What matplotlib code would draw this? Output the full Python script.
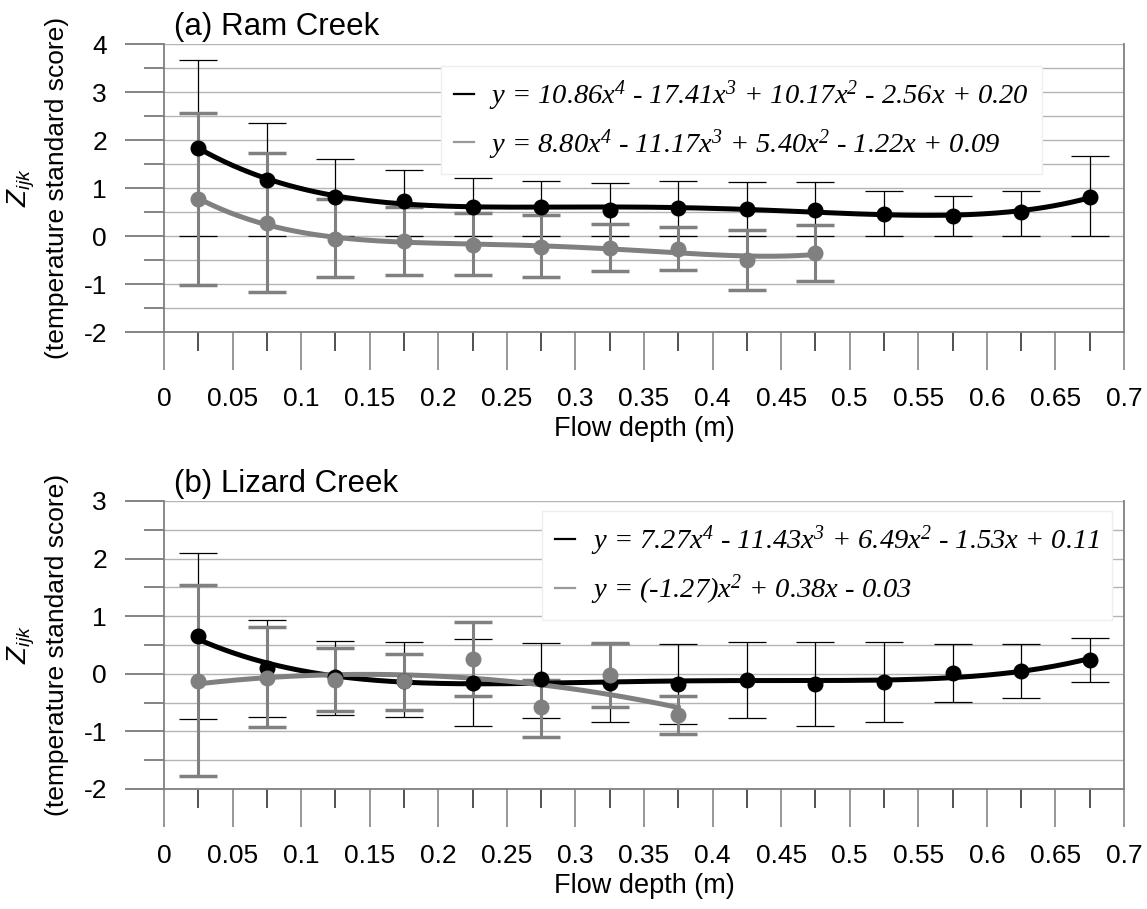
import numpy as np
import matplotlib
matplotlib.use("Agg")
import matplotlib.pyplot as plt
from matplotlib.lines import Line2D

plt.rcParams['font.family'] = ['Liberation Sans', 'DejaVu Sans']
plt.rcParams['axes.unicode_minus'] = False
plt.rcParams['mathtext.fontset'] = 'custom'
plt.rcParams['mathtext.rm'] = 'Liberation Serif:italic'
plt.rcParams['mathtext.it'] = 'Liberation Serif:italic'
plt.rcParams['mathtext.sf'] = 'Liberation Sans:italic'

# bin centres of flow depth (m)
depth = [0.025, 0.075, 0.125, 0.175, 0.225, 0.275, 0.325,
         0.375, 0.425, 0.475, 0.525, 0.575, 0.625, 0.675]
x_ticks = [0, 0.05, 0.1, 0.15, 0.2, 0.25, 0.3, 0.35, 0.4, 0.45, 0.5, 0.55, 0.6, 0.65, 0.7]
x_labels = ['0', '0.05', '0.1', '0.15', '0.2', '0.25', '0.3', '0.35',
            '0.4', '0.45', '0.5', '0.55', '0.6', '0.65', '0.7']

# (a) Ram Creek
ram_black_y = [1.84, 1.17, 0.82, 0.73, 0.61, 0.60, 0.54, 0.59, 0.56, 0.55, 0.45, 0.42, 0.49, 0.82]
ram_black_hi = [3.66, 2.36, 1.60, 1.37, 1.20, 1.14, 1.10, 1.14, 1.12, 1.12, 0.93, 0.84, 0.94, 1.67]
ram_black_lo = [0.0, 0.0, 0.0, 0.0, 0.0, 0.0, 0.0, 0.0, 0.0, 0.0, 0.0, 0.0, 0.0, 0.0]
ram_grey_y = [0.77, 0.28, -0.07, -0.10, -0.19, -0.22, -0.26, -0.28, -0.50, -0.36]
ram_grey_hi = [2.57, 1.72, 0.77, 0.61, 0.47, 0.44, 0.24, 0.19, 0.12, 0.23]
ram_grey_lo = [-1.03, -1.17, -0.86, -0.81, -0.81, -0.85, -0.73, -0.71, -1.12, -0.94]
ram_eqs = ['y = 10.86x$^4$ - 17.41x$^3$ + 10.17x$^2$ - 2.56x + 0.20',
           'y = 8.80x$^4$ - 11.17x$^3$ + 5.40x$^2$ - 1.22x + 0.09']

# (b) Lizard Creek
liz_black_y = [0.65, 0.10, -0.05, -0.12, -0.16, -0.09, -0.16, -0.17, -0.10, -0.17, -0.14, 0.02, 0.05, 0.24]
liz_black_hi = [2.10, 0.93, 0.57, 0.55, 0.61, 0.54, 0.52, 0.51, 0.56, 0.55, 0.55, 0.52, 0.51, 0.62]
liz_black_lo = [-0.78, -0.75, -0.71, -0.75, -0.90, -0.77, -0.84, -0.87, -0.77, -0.91, -0.84, -0.49, -0.42, -0.14]
liz_grey_y = [-0.13, -0.07, -0.10, -0.13, 0.26, -0.58, -0.02, -0.72]
liz_grey_hi = [1.54, 0.81, 0.45, 0.35, 0.90, -0.10, 0.53, -0.39]
liz_grey_lo = [-1.78, -0.92, -0.65, -0.63, -0.38, -1.09, -0.57, -1.05]
liz_eqs = ['y = 7.27x$^4$ - 11.43x$^3$ + 6.49x$^2$ - 1.53x + 0.11',
           'y = (-1.27)x$^2$ + 0.38x - 0.03']

GREY = '#808080'
LEG_FONT = dict(family=['Liberation Serif', 'DejaVu Serif'], style='italic', size=20.5)


def draw_series(ax, y, lo, hi, color, order, elw, capw):
    x = np.array(depth[:len(y)])
    y = np.array(y)
    yerr = [y - np.array(lo), np.array(hi) - y]
    ax.errorbar(x, y, yerr=yerr, fmt='none', ecolor=color, elinewidth=elw,
                capsize=13.5, capthick=capw, zorder=3)
    # polynomial trendline through the bin means
    coef = np.polyfit(x, y, order)
    xs = np.linspace(x[0], x[-1], 200)
    ax.plot(xs, np.polyval(coef, xs), color=color, lw=3.6, zorder=4)
    ax.plot(x, y, 'o', color=color, ms=10.5, zorder=5)


def style_axes(ax, ylim, title, leg_xy, eqs):
    ax.set_xlim(0, 0.7)
    ax.set_ylim(*ylim)
    ax.set_xticks(x_ticks, x_labels)
    ax.set_xticks(depth, minor=True)
    yt = list(range(ylim[0], ylim[1] + 1))
    ax.set_yticks(yt, [str(v) for v in yt])
    ax.set_yticks([v + 0.5 for v in yt[:-1]], minor=True)
    ax.tick_params(axis='x', which='major', length=27.4, width=1.1, color='#7a7a7a',
                   pad=12, labelsize=19)
    ax.tick_params(axis='x', which='minor', length=13.7, width=1.1, color='#222222')
    ax.tick_params(axis='y', which='major', length=28, width=1.2, color='#6e6e6e',
                   pad=13, labelsize=19)
    ax.tick_params(axis='y', which='minor', length=14.4, width=1.2, color='#6e6e6e')
    ax.xaxis.get_major_ticks()[10].tick1line.set_color('black')
    ax.grid(axis='y', which='both', color='#b4b4b4', lw=1.0, zorder=0)
    ax.set_axisbelow(True)
    ax.spines['top'].set_visible(False)
    for s in ['left', 'right', 'bottom']:
        ax.spines[s].set_color('#808080')
        ax.spines[s].set_linewidth(1.3)
    ax.text(0.0104, 1.008, title, transform=ax.transAxes, ha='left', va='bottom', fontsize=22.5)
    ax.text(-0.149, 0.5, r'$\mathsf{Z_{ijk}}$', transform=ax.transAxes, rotation=90,
            ha='center', va='center', fontsize=20)
    ax.text(-0.1115, 0.5, '(temperature standard score)', transform=ax.transAxes,
            rotation=90, ha='center', va='center', fontsize=19)
    ax.set_xlabel('Flow depth (m)', fontsize=19.5)
    ax.xaxis.set_label_coords(0.5, -0.292)
    handles = [Line2D([], [], color='black', lw=1.6), Line2D([], [], color='#999999', lw=1.6)]
    leg = ax.legend(handles, eqs, loc='upper left', bbox_to_anchor=leg_xy, borderaxespad=0,
                    prop=LEG_FONT, handlelength=0.7, handletextpad=0.55, labelspacing=0.5,
                    borderpad=0.45, frameon=True, fancybox=False, framealpha=1,
                    edgecolor='#eeeeee')
    leg.set_zorder(2)


fig = plt.figure(figsize=(11.47, 9.09), dpi=100)
ax1 = fig.add_axes([164 / 1147, 1 - 332 / 909, 960 / 1147, 288 / 909])
ax2 = fig.add_axes([164 / 1147, 1 - 789 / 909, 960 / 1147, 288 / 909])

draw_series(ax1, ram_black_y, ram_black_lo, ram_black_hi, 'black', 4, 0.9, 0.9)
draw_series(ax1, ram_grey_y, ram_grey_lo, ram_grey_hi, GREY, 4, 2.2, 2.5)
style_axes(ax1, (-2, 4), '(a) Ram Creek', (0.2885, 0.925), ram_eqs)

draw_series(ax2, liz_black_y, liz_black_lo, liz_black_hi, 'black', 4, 0.9, 0.9)
draw_series(ax2, liz_grey_y, liz_grey_lo, liz_grey_hi, GREY, 2, 2.2, 2.5)
style_axes(ax2, (-2, 3), '(b) Lizard Creek', (0.394, 0.965), liz_eqs)

fig.savefig('out.png', dpi=100)
